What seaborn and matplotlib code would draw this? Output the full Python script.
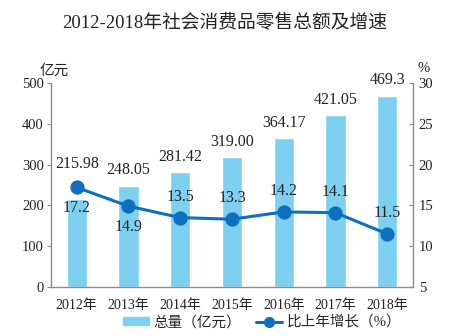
import numpy as np
import pandas as pd
import matplotlib
matplotlib.use("Agg")
import matplotlib.pyplot as plt
import seaborn as sns
from matplotlib.patches import Patch
from matplotlib.lines import Line2D

years = ["2012年", "2013年", "2014年", "2015年", "2016年", "2017年", "2018年"]
totals = [215.98, 248.05, 281.42, 319.00, 364.17, 421.05, 469.3]
total_labels = ["215.98", "248.05", "281.42", "319.00", "364.17", "421.05", "469.3"]
growth = [17.2, 14.9, 13.5, 13.3, 14.2, 14.1, 11.5]
growth_labels = ["17.2", "14.9", "13.5", "13.3", "14.2", "14.1", "11.5"]
growth_above = [False, False, True, True, True, True, True]

sns.set_style("white")
FAM = ["Liberation Serif", "Noto Sans CJK SC", "DejaVu Sans"]
plt.rcParams["font.family"] = FAM

bar_color = "#7dd0f0"
line_color = "#0e6ebf"
grey = "#8c8c8c"
txt = "#222222"

df = pd.DataFrame({"year": years, "total": totals, "growth": growth})

fig = plt.figure(figsize=(4.5, 3.36), dpi=100)
ax = fig.add_axes([0.113, 0.146, 0.805, 0.607])
sns.barplot(data=df, x="year", y="total", color=bar_color, width=0.39,
            saturation=1, ax=ax)
ax.set_ylim(0, 500)
ax.set_xlim(-0.5, 6.5)
ax.set_yticks(range(0, 501, 100))
ax.set_xlabel("")
ax.set_ylabel("")

ax2 = ax.twinx()
x = np.arange(len(years))
sns.lineplot(x=x, y=growth, ax=ax2, color=line_color, linewidth=2.2,
             marker="o", markersize=9.5, markeredgecolor=line_color)
ax2.set_ylim(5, 30)
ax2.set_yticks(range(5, 31, 5))
ax2.set_xlim(-0.5, 6.5)

for a in (ax, ax2):
    for s in a.spines.values():
        s.set_color(grey)
        s.set_linewidth(1)
    a.spines["top"].set_visible(False)
ax.spines["right"].set_visible(False)
ax2.spines["left"].set_visible(False)
ax2.spines["bottom"].set_visible(False)

ax.tick_params(axis="y", direction="out", length=3, color=grey, labelsize=10.5,
               labelcolor=txt, pad=2)
ax2.tick_params(axis="y", direction="in", length=3, color=grey, labelsize=10.5,
                labelcolor=txt, pad=4)
ax.set_xticks(x)
ax.set_xticklabels(years)
ax.tick_params(axis="x", which="major", length=0, labelsize=10,
               labelcolor=txt, pad=9)
ax.set_xticks(np.arange(-0.5, 7, 1), minor=True)
ax.tick_params(axis="x", which="minor", length=4, color=grey, direction="out")

# bar value labels
for i, (v, lab) in enumerate(zip(totals, total_labels)):
    y_disp = ax.transData.transform((i, v))[1]
    y_pt = ax2.transData.transform((i, growth[i]))[1]
    base = max(y_disp, y_pt + 8)
    yv = ax.transData.inverted().transform((0, base))[1]
    ax.annotate(lab, (i, yv), xytext=(0, 11), textcoords="offset points",
                ha="center", va="center", fontsize=11.5, color=txt)

# growth labels
for i, (g, lab, up) in enumerate(zip(growth, growth_labels, growth_above)):
    off = 15 if up else -15
    ax2.annotate(lab, (i, g), xytext=(0, off), textcoords="offset points",
                 ha="center", va="center", fontsize=11.5, color=txt)

fig.text(0.5, 0.932, "2012-2018年社会消费品零售总额及增速", ha="center",
         va="center", fontsize=13.5, color=txt)
fig.text(0.087, 0.79, "亿元", ha="left", va="center", fontsize=10.5, color=txt)
fig.text(0.927, 0.797, "%", ha="left", va="center", fontsize=10.5, color=txt)

handles = [Patch(facecolor=bar_color, edgecolor=bar_color),
           Line2D([0], [0], color=line_color, linewidth=2.2, marker="o",
                  markersize=7)]
fig.legend(handles, ["总量（亿元）", "比上年增长（%）"], loc="center",
           bbox_to_anchor=(0.582, 0.04), ncol=2, frameon=False, fontsize=10.5,
           handlelength=1.8, handletextpad=0.3, columnspacing=1.0,
           handleheight=0.45)

fig.savefig("out.png", dpi=100)
